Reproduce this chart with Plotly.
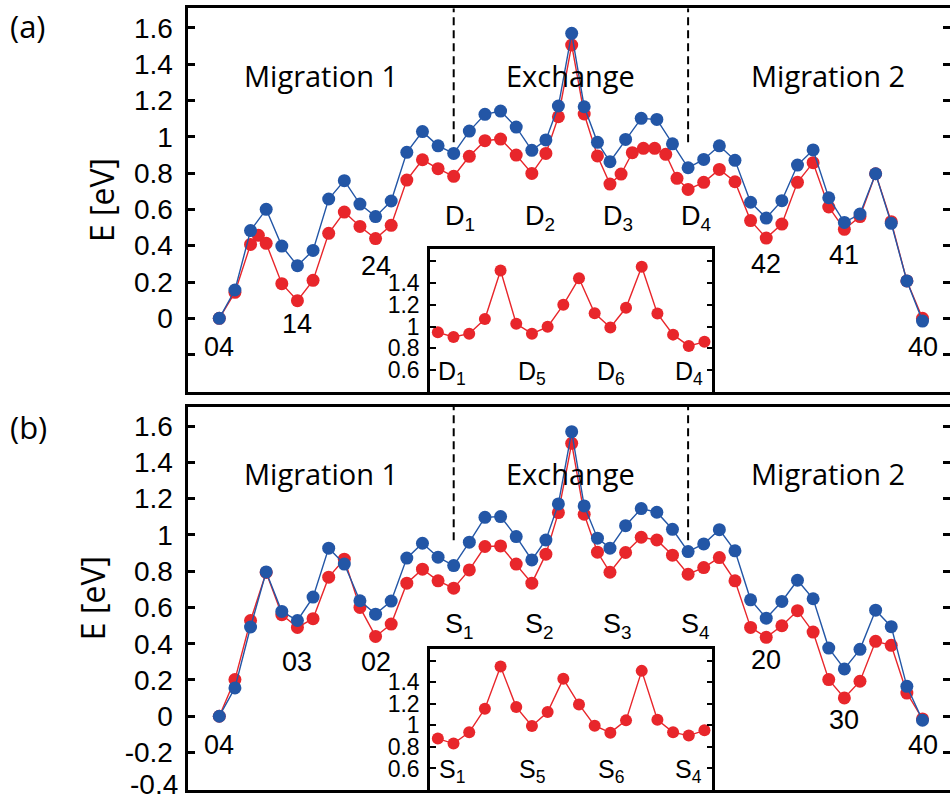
import plotly.graph_objects as go

# ---------------- data ----------------
# reaction coordinate (image index) for panel (a) blue and both panel (b) series
x_main = [0, 1, 2, 3, 4, 5, 6, 7, 8, 9, 10, 11, 12, 13, 14, 15, 16, 17, 18, 19, 20,
          20.9, 21.7, 22.55, 23.35, 24.2,
          25, 26, 27, 28, 29, 30, 31, 32, 33, 34, 35, 36, 37, 38, 39, 40, 41, 42, 43, 44, 45]
# panel (a) red has a few extra images
x_a_red = [0, 1, 2, 2.5, 3, 4, 5, 6, 7, 8, 9, 10, 11, 12, 13, 14, 15, 16, 17, 18, 19, 20,
           20.9, 21.7, 22.55, 23.35, 24.2,
           25, 25.71, 26.43, 27.14, 27.86, 28.57, 29.29,
           30, 31, 32, 33, 34, 35, 36, 37, 38, 39, 40, 41, 42, 43, 44, 45]

E_a_blue = [0.0, 0.156, 0.483, 0.600, 0.398, 0.290, 0.374, 0.657, 0.758, 0.629,
            0.560, 0.646, 0.914, 1.028, 0.950, 0.908, 1.031, 1.123, 1.141, 1.053,
            0.925, 0.982, 1.169, 1.569, 1.165, 0.969, 0.862, 0.985, 1.101, 1.095,
            0.961, 0.829, 0.875, 0.950, 0.870, 0.639, 0.552, 0.648, 0.844, 0.927,
            0.664, 0.528, 0.574, 0.796, 0.523, 0.206, -0.015]
E_a_red = [0.0, 0.143, 0.407, 0.457, 0.413, 0.191, 0.097, 0.209, 0.468, 0.585,
           0.506, 0.439, 0.512, 0.761, 0.873, 0.824, 0.782, 0.892, 0.978, 0.987,
           0.899, 0.798, 0.908, 1.110, 1.505, 1.125, 0.894, 0.739, 0.794, 0.912,
           0.936, 0.936, 0.903, 0.771, 0.710, 0.749, 0.820, 0.752, 0.538, 0.442,
           0.519, 0.749, 0.857, 0.613, 0.490, 0.560, 0.796, 0.532, 0.206, 0.0]

E_b_blue = [0.0, 0.156, 0.492, 0.796, 0.578, 0.528, 0.657, 0.927, 0.839, 0.637,
            0.563, 0.635, 0.872, 0.954, 0.877, 0.831, 0.960, 1.097, 1.101, 0.991,
            0.862, 0.972, 1.171, 1.569, 1.160, 0.982, 0.927, 1.051, 1.145, 1.125,
            1.031, 0.908, 0.950, 1.029, 0.912, 0.642, 0.541, 0.633, 0.750, 0.648,
            0.376, 0.261, 0.369, 0.585, 0.494, 0.165, -0.022]
E_b_red = [0.0, 0.202, 0.528, 0.793, 0.560, 0.490, 0.538, 0.767, 0.866, 0.600,
           0.440, 0.508, 0.734, 0.811, 0.747, 0.706, 0.807, 0.936, 0.939, 0.839,
           0.734, 0.894, 1.123, 1.505, 1.114, 0.905, 0.794, 0.903, 0.987, 0.972,
           0.888, 0.783, 0.820, 0.875, 0.747, 0.490, 0.435, 0.499, 0.582, 0.464,
           0.202, 0.101, 0.193, 0.413, 0.391, 0.128, -0.015]

x_inset = list(range(18))
E_inset_a = [0.947, 0.904, 0.935, 1.068, 1.512, 1.025, 0.935, 0.997, 1.198, 1.440,
             1.121, 0.991, 1.171, 1.546, 1.118, 0.926, 0.823, 0.860]
E_inset_b = [0.877, 0.831, 0.935, 1.154, 1.545, 1.169, 0.994, 1.123, 1.431, 1.194,
             0.997, 0.932, 1.046, 1.505, 1.052, 0.935, 0.905, 0.954]

y_ticks = [-0.4, -0.2, 0, 0.2, 0.4, 0.6, 0.8, 1.0, 1.2, 1.4, 1.6]
y_ticktext_a = ["", "", "0", "0.2", "0.4", "0.6", "0.8", "1", "1.2", "1.4", "1.6"]
y_ticktext_b = ["-0.4", "-0.2", "0", "0.2", "0.4", "0.6", "0.8", "1", "1.2", "1.4", "1.6"]
inset_ticks = [0.6, 0.8, 1.0, 1.2, 1.4, 1.6]
inset_ticktext = ["0.6", "0.8", "1", "1.2", "1.4", ""]

region_names = ["Migration 1", "Exchange", "Migration 2"]
region_x = [6.5, 22.45, 38.95]
boundaries = [15, 30]

labels_a = ["04", "14", "24", "D<sub>1</sub>", "D<sub>2</sub>", "D<sub>3</sub>", "D<sub>4</sub>", "42", "41", "40"]
labels_a_x = [0, 5, 10, 15.4, 20.5, 25.5, 30.5, 35, 39.95, 45]
labels_a_y = [-0.16, -0.03, 0.29, 0.55, 0.55, 0.55, 0.55, 0.30, 0.35, -0.16]
labels_b = ["04", "03", "02", "S<sub>1</sub>", "S<sub>2</sub>", "S<sub>3</sub>", "S<sub>4</sub>", "20", "30", "40"]
labels_b_x = [0, 5, 10, 15.4, 20.5, 25.5, 30.5, 35, 40, 45]
labels_b_y = [-0.16, 0.30, 0.30, 0.50, 0.50, 0.50, 0.50, 0.31, -0.02, -0.16]
inset_labels_a = ["D<sub>1</sub>", "D<sub>5</sub>", "D<sub>6</sub>", "D<sub>4</sub>"]
inset_labels_b = ["S<sub>1</sub>", "S<sub>5</sub>", "S<sub>6</sub>", "S<sub>4</sub>"]
inset_labels_x = [0.9, 6.0, 11.05, 16.0]

# ---------------- style ----------------
BLUE = "#2356A6"
RED = "#E8262B"
TICKFONT = "Liberation Sans, Arial, sans-serif"
TEXTFONT = "Open Sans, sans-serif"
W, H = 950, 802

def px_x(p):
    return p / W

def px_y(p):
    return 1 - p / H

XDOM = [px_x(187.5), 1.0]
YDOM_A = [px_y(391.7), px_y(8.3)]
YDOM_B = [px_y(789.5), px_y(406.7)]
XDOM_IN = [px_x(430), px_x(712.3)]
YDOM_IN_A = [px_y(391.7), px_y(249.3)]
YDOM_IN_B = [px_y(789.5), px_y(649.3)]
XRANGE = [-2.035, 46.76]
YRANGE = [-0.404, 1.707]
YRANGE_IN = [0.405, 1.705]

# the bottom-most label of panel (b) sits on the lower page edge; it is drawn as
# an annotation (kept inside the page) instead of an axis tick label
y_ticktext_b_axis = [""] + y_ticktext_b[1:]

fig = go.Figure()

def series(x, y, color, xa, ya, size=13):
    fig.add_trace(go.Scatter(
        x=x, y=y, mode="lines+markers", xaxis=xa, yaxis=ya,
        line=dict(color=color, width=1.4),
        marker=dict(color=color, size=size, line=dict(width=0)),
        showlegend=False, hoverinfo="skip"))

# panel (a)
series(x_a_red, E_a_red, RED, "x", "y")
series(x_main, E_a_blue, BLUE, "x", "y")
# panel (b)
series(x_main, E_b_red, RED, "x3", "y4")
series(x_main, E_b_blue, BLUE, "x3", "y4")
# insets
series(x_inset, E_inset_a, RED, "x2", "y3", size=12)
series(x_inset, E_inset_b, RED, "x4", "y6", size=12)
# dummy traces for right-hand tick axes
fig.add_trace(go.Scatter(x=[None], y=[None], xaxis="x", yaxis="y2", showlegend=False, hoverinfo="skip"))
fig.add_trace(go.Scatter(x=[None], y=[None], xaxis="x3", yaxis="y5", showlegend=False, hoverinfo="skip"))

main_x = dict(domain=XDOM, range=XRANGE, showline=True, linecolor="black", linewidth=3,
              mirror=True, showticklabels=False, ticks="", showgrid=False, zeroline=False)
def main_y(dom, anchor, ticktext):
    return dict(domain=dom, anchor=anchor, range=YRANGE, showline=True, linecolor="black",
                linewidth=3, ticks="inside", ticklen=7, tickwidth=2.5, tickcolor="black",
                tickvals=y_ticks, ticktext=ticktext, showgrid=False, zeroline=False,
                tickfont=dict(family=TICKFONT, size=28, color="black"),
                ticklabelstandoff=6)
def right_y(overlay, anchor):
    return dict(overlaying=overlay, anchor=anchor, side="right", range=YRANGE,
                showline=False, ticks="inside", ticklen=7, tickwidth=2.5, tickcolor="black",
                tickvals=y_ticks, showticklabels=False, showgrid=False, zeroline=False)
def inset_x(anchor):
    return dict(domain=XDOM_IN, anchor=anchor, range=[-0.5, 17.5], showline=True,
                linecolor="black", linewidth=2.5, mirror=True, showticklabels=False,
                ticks="", showgrid=False, zeroline=False)
def inset_y(dom, anchor):
    return dict(domain=dom, anchor=anchor, range=YRANGE_IN, showline=True, linecolor="black",
                linewidth=2.5, mirror="ticks", ticks="inside", ticklen=6, tickwidth=2,
                tickcolor="black", tickvals=inset_ticks, ticktext=inset_ticktext,
                showgrid=False, zeroline=False,
                tickfont=dict(family=TICKFONT, size=23, color="black"), ticklabelstandoff=3)

fig.update_layout(
    width=W, height=H, margin=dict(l=0, r=0, t=0, b=0),
    paper_bgcolor="white", plot_bgcolor="white", showlegend=False,
    xaxis=dict(main_x, anchor="y"),
    yaxis=dict(main_y(YDOM_A, "x", y_ticktext_a),
               title=dict(text="E [eV]", font=dict(family=TEXTFONT, size=32, color="black"), standoff=10)),
    yaxis2=right_y("y", "x"),
    xaxis2=inset_x("y3"),
    yaxis3=inset_y(YDOM_IN_A, "x2"),
    xaxis3=dict(main_x, anchor="y4"),
    yaxis4=dict(main_y(YDOM_B, "x3", y_ticktext_b_axis),
                title=dict(text="E [eV]", font=dict(family=TEXTFONT, size=32, color="black"), standoff=10)),
    yaxis5=right_y("y4", "x3"),
    xaxis4=inset_x("y6"),
    yaxis6=inset_y(YDOM_IN_B, "x4"),
)

shapes = []
for xa, ya in (("x", "y"), ("x3", "y4")):
    for b in boundaries:
        shapes.append(dict(type="line", xref=xa, yref=ya, x0=b, x1=b, y0=0.97, y1=YRANGE[1],
                           line=dict(color="black", width=2, dash="8px,5px")))
fig.update_layout(shapes=shapes)

ann = []
def txt(text, x, y, xref, yref, size, family, xanchor="center", yanchor="middle"):
    ann.append(dict(text=text, x=x, y=y, xref=xref, yref=yref, showarrow=False,
                    xanchor=xanchor, yanchor=yanchor,
                    font=dict(family=family, size=size, color="black")))

for name, rx in zip(region_names, region_x):
    txt(name, rx, 1.335, "x", "y", 29, TEXTFONT)
    txt(name, rx, 1.34, "x3", "y4", 29, TEXTFONT)
for t, lx, ly in zip(labels_a, labels_a_x, labels_a_y):
    txt(t, lx, ly, "x", "y", 27, TICKFONT)
for t, lx, ly in zip(labels_b, labels_b_x, labels_b_y):
    txt(t, lx, ly, "x3", "y4", 27, TICKFONT)
for t, lx in zip(inset_labels_a, inset_labels_x):
    txt(t, lx, 0.575, "x2", "y3", 25, TICKFONT)
for t, lx in zip(inset_labels_b, inset_labels_x):
    txt(t, lx, 0.575, "x4", "y6", 25, TICKFONT)
# lowest y tick label of panel (b)
txt(y_ticktext_b[0], px_x(180), 0.0, "paper", "paper", 28, TICKFONT, xanchor="right", yanchor="bottom")
txt("(a)", px_x(8), px_y(26), "paper", "paper", 31, TEXTFONT, xanchor="left")
txt("(b)", px_x(8), px_y(427), "paper", "paper", 31, TEXTFONT, xanchor="left")
fig.update_layout(annotations=ann)

fig.write_html(
    "out.html",
    config={"displayModeBar": False},
    post_script="document.body.style.margin='0px';document.body.style.padding='0px';"
                "document.body.style.overflow='hidden';",
)
